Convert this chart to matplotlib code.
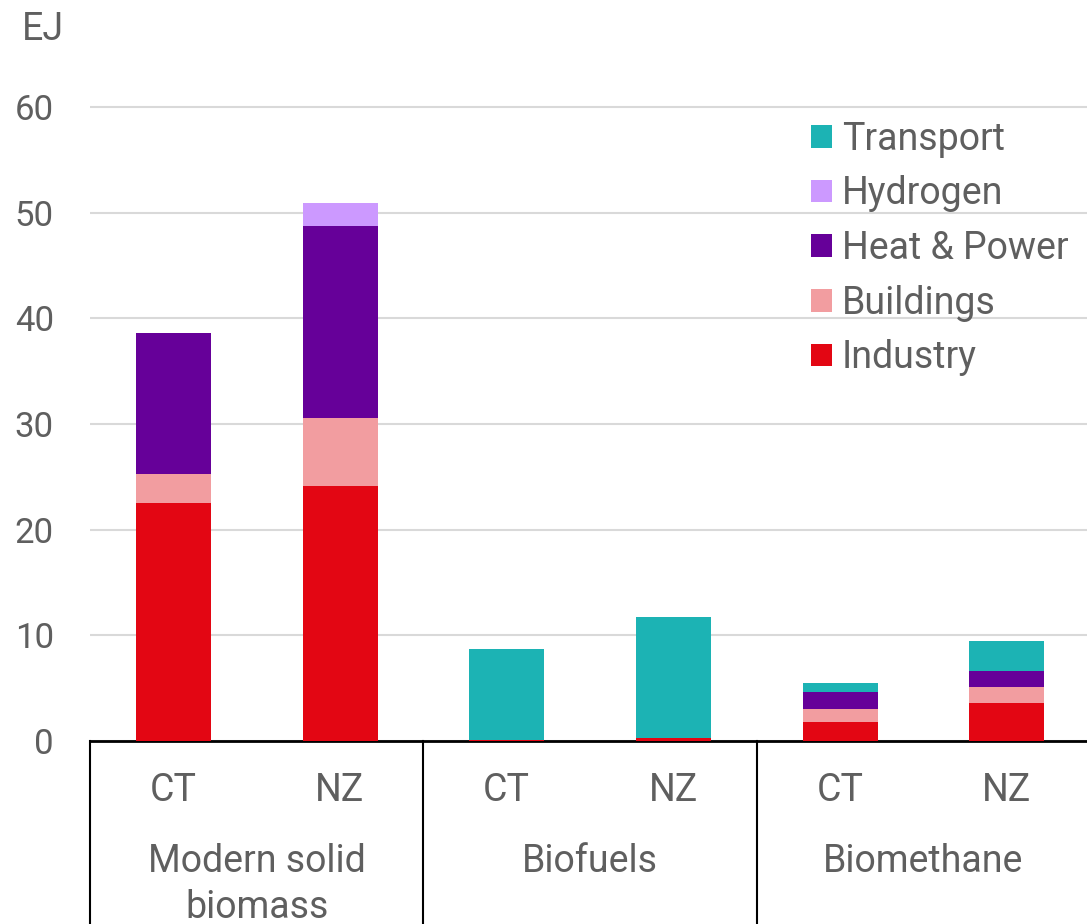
import numpy as np
import matplotlib.pyplot as plt
from matplotlib.patches import Patch
from matplotlib.lines import Line2D

plt.rcParams['font.family'] = ['Roboto', 'DejaVu Sans']

groups = ['Modern solid\nbiomass', 'Biofuels', 'Biomethane']
scenarios = ['CT', 'NZ']
sectors = ['Industry', 'Buildings', 'Heat & Power', 'Hydrogen', 'Transport']
colors = ['#E30613', '#F29DA0', '#660099', '#CC99FF', '#1CB3B4']

# order: solid CT, solid NZ, biofuels CT, biofuels NZ, biomethane CT, biomethane NZ
industry = [22.5, 24.1, 0.1, 0.3, 1.8, 3.6]
buildings = [2.8, 6.5, 0.0, 0.0, 1.2, 1.5]
heat_power = [13.3, 18.1, 0.0, 0.0, 1.6, 1.55]
hydrogen = [0.0, 2.2, 0.0, 0.0, 0.0, 0.0]
transport = [0.0, 0.0, 8.6, 11.4, 0.9, 2.85]

series = [industry, buildings, heat_power, hydrogen, transport]
grey = '#5f5f5f'
fs = 27

fig = plt.figure(figsize=(10.87, 9.24), dpi=100)
ax = fig.add_axes([90 / 1087, 183 / 924, 1000 / 1087, (741 - 54) / 924])

x = np.arange(6)
bottom = np.zeros(6)
for vals, col in zip(series, colors):
    ax.bar(x, vals, 0.45, bottom=bottom, color=col, zorder=3)
    bottom += np.array(vals)

ax.set_xlim(-0.5, 5.5)
ax.set_ylim(0, 65)
ax.set_yticks(range(0, 61, 10))
ax.yaxis.grid(True, color='#D9D9D9', linewidth=1.5, zorder=0)
for s in ['top', 'right', 'left']:
    ax.spines[s].set_visible(False)
ax.spines['bottom'].set_linewidth(2)
ax.spines['bottom'].set_color('black')
ax.tick_params(axis='y', length=0, labelsize=25, labelcolor=grey, pad=26)
ax.tick_params(axis='x', length=0, labelsize=fs, labelcolor=grey, pad=22)
ax.set_xticks(x)
ax.set_xticklabels(scenarios * 3)

for i, g in enumerate(groups):
    ax.text(2 * i + 0.5, -0.149, g, transform=ax.get_xaxis_transform(),
            ha='center', va='top', fontsize=fs, color=grey, linespacing=1.3)

for xs in [-0.5, 1.5, 3.5]:
    ax.add_line(Line2D([xs, xs], [0, -0.3], transform=ax.get_xaxis_transform(),
                       color='black', linewidth=1.5, clip_on=False))

fig.text(22 / 1087, 1 - 30 / 924, 'EJ', fontsize=fs, color=grey, va='center')

handles = [Patch(facecolor=c, label=l) for c, l in zip(colors, sectors)][::-1]
ax.legend(handles=handles, loc='upper left', bbox_to_anchor=(0.721, 0.903),
          frameon=False, fontsize=fs, labelcolor=grey, handlelength=0.55,
          handleheight=0.55, handletextpad=0.27, labelspacing=0.47,
          borderaxespad=0, borderpad=0)

fig.savefig('out.png', dpi=100)
